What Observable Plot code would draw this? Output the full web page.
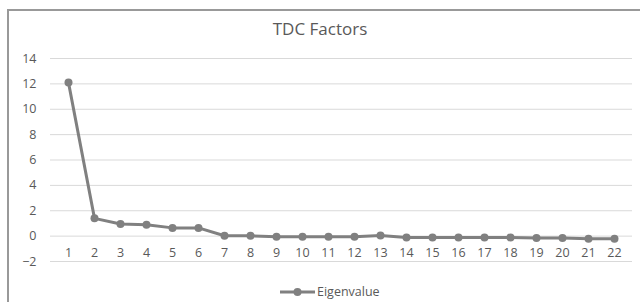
<!DOCTYPE html>
<html>
<head>
<meta charset="utf-8">
<script src="https://cdn.jsdelivr.net/npm/d3@7"></script>
<script src="https://cdn.jsdelivr.net/npm/@observablehq/plot@0.6"></script>
<style>
  html, body { margin: 0; padding: 0; background: #fff; overflow: hidden; width: 640px; height: 302px; }
  #wrap { position: relative; width: 640px; height: 302px; font-family: "Open Sans", sans-serif; }
  #frame { position: absolute; left: 7px; top: 9px; width: 700px; height: 400px; border: 2px solid #999999; box-sizing: border-box; pointer-events: none; }
  #title { position: absolute; left: 0; width: 640px; top: 17px; text-align: center; font-size: 17px; color: #595959; }
  #legend { position: absolute; top: 283px; left: 279px; display: flex; align-items: center; font-size: 12.5px; color: #595959; }
  #chart { position: absolute; left: 0; top: 0; }
</style>
</head>
<body>
<div id="wrap">
  <div id="chart"></div>
  <div id="frame"></div>
  <div id="title">TDC Factors</div>
  <div id="legend"><svg width="37" height="10"><line x1="1" y1="5" x2="36" y2="5" stroke="#808080" stroke-width="3"/><circle cx="18.5" cy="5" r="4" fill="#808080"/></svg><span style="margin-left:1px">Eigenvalue</span></div>
</div>
<script>
const factors = [1,2,3,4,5,6,7,8,9,10,11,12,13,14,15,16,17,18,19,20,21,22];
const eigenvalues = [12.1, 1.4, 0.95, 0.9, 0.65, 0.65, 0.03, 0.02, -0.05, -0.05, -0.05, -0.05, 0.05, -0.1, -0.1, -0.1, -0.1, -0.1, -0.15, -0.15, -0.2, -0.2];
const yTicks = [-2, 0, 2, 4, 6, 8, 10, 12, 14];

const data = factors.map((f, i) => ({factor: f, value: eigenvalues[i]}));

const chart = Plot.plot({
  width: 640,
  height: 302,
  marginTop: 58,
  marginBottom: 41,
  marginLeft: 50,
  marginRight: 8,
  style: {fontFamily: "'Open Sans', sans-serif", fontSize: "12.5px", color: "#595959", background: "transparent"},
  x: {type: "point", domain: factors, padding: 0.5, label: null},
  y: {domain: [-2, 14], label: null},
  marks: [
    Plot.gridY(yTicks, {stroke: "#d9d9d9", strokeOpacity: 1, strokeWidth: 1}),
    Plot.axisY(yTicks, {tickSize: 0, tickPadding: 14, fill: "#595959", fontSize: 12.5, label: null}),
    Plot.axisX({anchor: "bottom", tickSize: 0, tickPadding: -13, fill: "#595959", fontSize: 12.5, label: null}),
    Plot.line(data, {x: "factor", y: "value", stroke: "#808080", strokeWidth: 3}),
    Plot.dot(data, {x: "factor", y: "value", r: 4, fill: "#808080", stroke: "none"})
  ]
});
document.getElementById("chart").appendChild(chart);
</script>
</body>
</html>
